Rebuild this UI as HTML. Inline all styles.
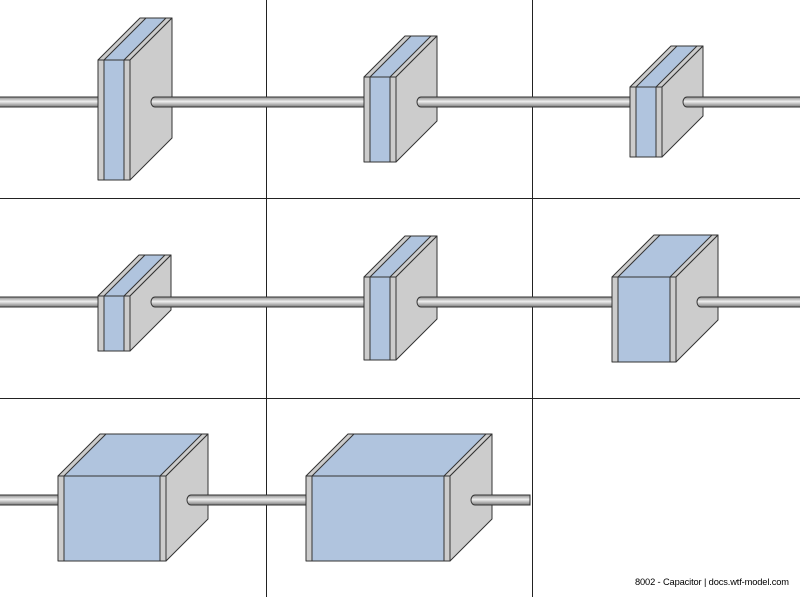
<!DOCTYPE html>
<html><head><meta charset="utf-8"><style>
html,body{margin:0;padding:0;background:#fff;width:800px;height:597px;overflow:hidden}
svg{display:block}
</style></head><body>
<svg width="800" height="597" viewBox="0 0 800 597" xmlns="http://www.w3.org/2000/svg">
<defs>
<linearGradient id="g" x1="0" y1="0" x2="0" y2="1">
<stop offset="0" stop-color="#8a8a8a"/><stop offset="0.45" stop-color="#f0f0f0"/><stop offset="1" stop-color="#7a7a7a"/>
</linearGradient>
</defs>
<rect width="800" height="597" fill="#fff"/>
<g stroke="#222" stroke-width="1">
<line x1="266.5" y1="0" x2="266.5" y2="597"/>
<line x1="532.5" y1="0" x2="532.5" y2="597"/>
<line x1="0" y1="198.5" x2="800" y2="198.5"/>
<line x1="0" y1="398.5" x2="800" y2="398.5"/>
</g>
<g stroke="#333" stroke-width="1" fill="url(#g)">
<rect x="-2" y="97" width="100" height="10"/>
<rect x="-2" y="297" width="100" height="10"/>
<rect x="-2" y="495" width="60" height="10"/>
</g>
<g stroke="#333" stroke-width="1" stroke-linejoin="round">
<polygon points="98,60 140,18 172,18 130,60" fill="#ccc"/>
<polygon points="104,60 146,18 166,18 124,60" fill="#b0c4de"/>
<polygon points="130,60 172,18 172,138 130,180" fill="#ccc"/>
<rect x="98" y="60" width="32" height="120" fill="#ccc"/>
<rect x="104" y="60" width="20" height="120" fill="#b0c4de"/>
<polygon points="364,77 405,36 437,36 396,77" fill="#ccc"/>
<polygon points="370,77 411,36 431,36 390,77" fill="#b0c4de"/>
<polygon points="396,77 437,36 437,121 396,162" fill="#ccc"/>
<rect x="364" y="77" width="32" height="85" fill="#ccc"/>
<rect x="370" y="77" width="20" height="85" fill="#b0c4de"/>
<polygon points="630,87 671,46 703,46 662,87" fill="#ccc"/>
<polygon points="636,87 677,46 697,46 656,87" fill="#b0c4de"/>
<polygon points="662,87 703,46 703,116 662,157" fill="#ccc"/>
<rect x="630" y="87" width="32" height="70" fill="#ccc"/>
<rect x="636" y="87" width="20" height="70" fill="#b0c4de"/>
<polygon points="98,296 139,255 171,255 130,296" fill="#ccc"/>
<polygon points="104,296 145,255 165,255 124,296" fill="#b0c4de"/>
<polygon points="130,296 171,255 171,310 130,351" fill="#ccc"/>
<rect x="98" y="296" width="32" height="55" fill="#ccc"/>
<rect x="104" y="296" width="20" height="55" fill="#b0c4de"/>
<polygon points="364,277 405,236 437,236 396,277" fill="#ccc"/>
<polygon points="370,277 411,236 431,236 390,277" fill="#b0c4de"/>
<polygon points="396,277 437,236 437,319 396,360" fill="#ccc"/>
<rect x="364" y="277" width="32" height="83" fill="#ccc"/>
<rect x="370" y="277" width="20" height="83" fill="#b0c4de"/>
<polygon points="612,277 654,235 718,235 676,277" fill="#ccc"/>
<polygon points="618,277 660,235 712,235 670,277" fill="#b0c4de"/>
<polygon points="676,277 718,235 718,320 676,362" fill="#ccc"/>
<rect x="612" y="277" width="64" height="85" fill="#ccc"/>
<rect x="618" y="277" width="52" height="85" fill="#b0c4de"/>
<polygon points="58,476 100,434 208,434 166,476" fill="#ccc"/>
<polygon points="64,476 106,434 202,434 160,476" fill="#b0c4de"/>
<polygon points="166,476 208,434 208,519 166,561" fill="#ccc"/>
<rect x="58" y="476" width="108" height="85" fill="#ccc"/>
<rect x="64" y="476" width="96" height="85" fill="#b0c4de"/>
<polygon points="306,476 348,434 492,434 450,476" fill="#ccc"/>
<polygon points="312,476 354,434 486,434 444,476" fill="#b0c4de"/>
<polygon points="450,476 492,434 492,519 450,561" fill="#ccc"/>
<rect x="306" y="476" width="144" height="85" fill="#ccc"/>
<rect x="312" y="476" width="132" height="85" fill="#b0c4de"/>
</g>
<g stroke="#333" stroke-width="1" fill="url(#g)">
<path d="M155,97 H364 V107 H155 A4,5 0 0 1 155,97 Z"/>
<path d="M421,97 H630 V107 H421 A4,5 0 0 1 421,97 Z"/>
<path d="M687,97 H802 V107 H687 A4,5 0 0 1 687,97 Z"/>
<path d="M155,297 H364 V307 H155 A4,5 0 0 1 155,297 Z"/>
<path d="M421,297 H612 V307 H421 A4,5 0 0 1 421,297 Z"/>
<path d="M701,297 H802 V307 H701 A4,5 0 0 1 701,297 Z"/>
<path d="M191,495 H306 V505 H191 A4,5 0 0 1 191,495 Z"/>
<path d="M475,495 H530 V505 H475 A4,5 0 0 1 475,495 Z"/>
</g>
<text x="789" y="585" text-anchor="end" font-family="Liberation Sans, sans-serif" font-size="9.3" textLength="154" fill="#000">8002 - Capacitor | docs.wtf-model.com</text>
</svg>
</body></html>
